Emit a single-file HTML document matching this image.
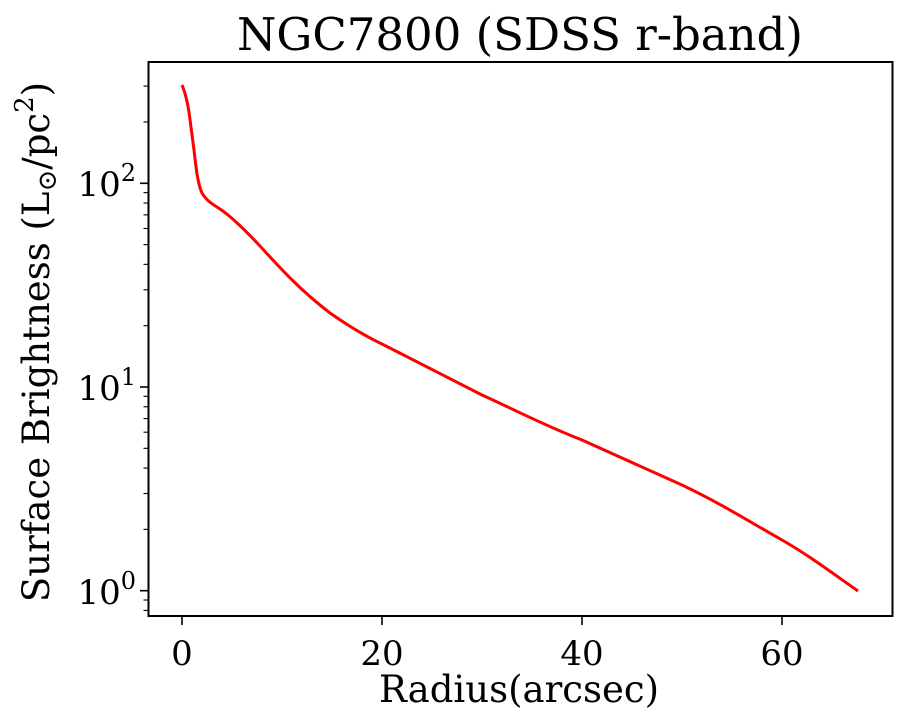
<!DOCTYPE html>
<html><head><meta charset="utf-8"><style>
html,body{margin:0;padding:0;background:#fff;}
svg{display:block;font-family:"DejaVu Serif","Liberation Serif",serif;}
</style></head><body>
<svg id="s" width="908" height="727" viewBox="0 0 908 727" xmlns="http://www.w3.org/2000/svg">
<text x="520" y="50" font-size="45" text-anchor="middle" fill="#000">NGC7800 (SDSS r-band)</text>
<g id="ticks" stroke="#000" stroke-width="1.6"></g>
<g font-size="34" fill="#000" text-anchor="middle">
<text x="182" y="665">0</text><text x="382" y="665">20</text><text x="582" y="665">40</text><text x="782" y="665">60</text>
</g>
<g font-size="34" fill="#000" text-anchor="end">
<text x="136" y="196">10<tspan font-size="24" dy="-15">2</tspan></text>
<text x="136" y="400">10<tspan font-size="24" dy="-15">1</tspan></text>
<text x="136" y="604">10<tspan font-size="24" dy="-15">0</tspan></text>
</g>
<text x="519" y="702" font-size="37" text-anchor="middle">Radius(arcsec)</text>
<text transform="translate(49,342) rotate(-90)" font-size="37" text-anchor="middle">Surface Brightness (L<tspan font-size="26" dy="7">⊙</tspan><tspan dy="-7">/pc</tspan><tspan font-size="26" dy="-16">2</tspan><tspan dy="16">)</tspan></text>
<path fill="none" stroke="#ff0000" stroke-width="3" stroke-linejoin="round" d="M182,85 C185,92 187,100 189,112 L194,150 C196,168 198,185 202,193 C206,200 212,204 220,209 C232,217 245,230 260,246 C280,268 300,290 330,313 C350,327 365,336 382,344 L482,395 C515,410 548,427 582,440 L682,485 C720,503 750,522 782,540 C810,556 835,575 858,591"/>
<rect x="148.5" y="62" width="744" height="554" fill="none" stroke="#000" stroke-width="2"/>
</svg>
<script>
var g=document.getElementById('ticks'),ns="http://www.w3.org/2000/svg";
function ln(x1,y1,x2,y2,w){var l=document.createElementNS(ns,'line');l.setAttribute('x1',x1);l.setAttribute('y1',y1);l.setAttribute('x2',x2);l.setAttribute('y2',y2);if(w)l.setAttribute('stroke-width',w);g.appendChild(l);}
[182,382,582,782].forEach(function(x){ln(x,616,x,625);});
function Y(v){return 590.7-Math.log10(v)*203.7;}
[1,10,100].forEach(function(v){var y=Y(v);ln(140,y,148.5,y);});
var vals=[0.8,0.9];for(var d=1;d<=100;d*=10){for(var k=2;k<=9;k++){var v=k*d;if(v<=300)vals.push(v);}}
vals.forEach(function(v){var y=Y(v);if(y>62&&y<616)ln(143.5,y,148.5,y,1.1);});
</script>
</body></html>
